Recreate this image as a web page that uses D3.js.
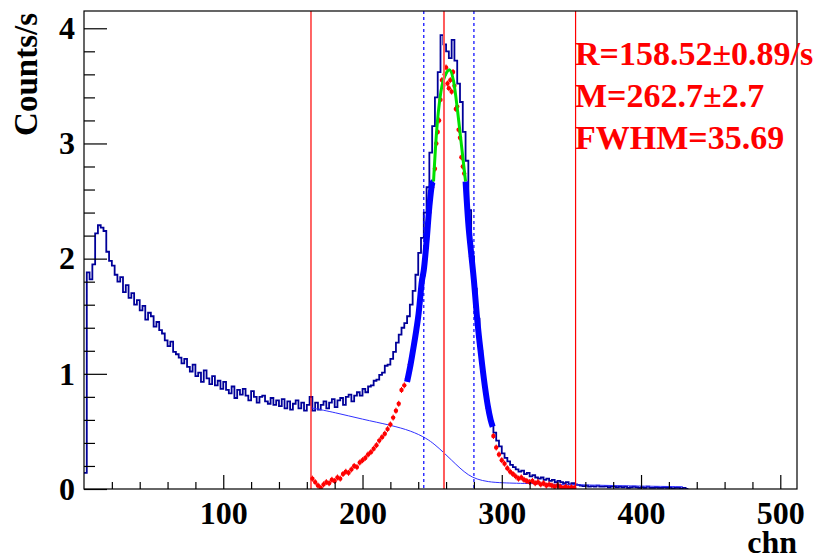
<!DOCTYPE html>
<html>
<head>
<meta charset="utf-8">
<script src="https://cdn.jsdelivr.net/npm/d3@7"></script>
<style>
  body { margin: 0; background: #fff; }
  svg { display: block; }
</style>
</head>
<body>
<div id="chart"></div>
<script>
// Histogram: counts per 2-channel bin, starting at channel 0
let binWidth = 2;
let counts = [
  0.14, 1.88, 1.82, 1.95, 2.22, 2.29, 2.27, 2.24, 2.06, 1.98,
  1.94, 1.86, 1.80, 1.84, 1.71, 1.77, 1.66, 1.70, 1.60, 1.64,
  1.55, 1.59, 1.47, 1.53, 1.50, 1.41, 1.45, 1.38, 1.35, 1.29,
  1.24, 1.28, 1.19, 1.17, 1.14, 1.09, 1.13, 1.06, 1.02, 1.08,
  0.98, 1.01, 0.93, 1.03, 0.96, 0.91, 0.98, 0.90, 0.94, 0.87,
  0.93, 0.86, 0.83, 0.89, 0.79, 0.86, 0.82, 0.87, 0.81, 0.77,
  0.85, 0.80, 0.75, 0.80, 0.81, 0.76, 0.74, 0.79, 0.73, 0.77,
  0.72, 0.78, 0.70, 0.76, 0.69, 0.74, 0.77, 0.70, 0.75, 0.68,
  0.73, 0.80, 0.68, 0.75, 0.69, 0.73, 0.76, 0.70, 0.75, 0.78,
  0.71, 0.77, 0.79, 0.73, 0.80, 0.82, 0.76, 0.81, 0.84, 0.81,
  0.87, 0.84, 0.89, 0.90, 0.94, 0.95, 0.99, 1.01, 1.07, 1.08,
  1.13, 1.19, 1.27, 1.34, 1.40, 1.44, 1.50, 1.60, 1.72, 1.86,
  2.05, 2.18, 2.40, 2.62, 2.92, 3.15, 3.40, 3.62, 3.94, 3.86,
  3.80, 3.74, 3.90, 3.72, 3.52, 3.36, 3.10, 2.85, 2.42, 2.02,
  1.74, 1.48, 1.20, 0.98, 0.80, 0.66, 0.56, 0.49, 0.42, 0.37,
  0.31, 0.27, 0.24, 0.21, 0.19, 0.17, 0.15, 0.16, 0.13, 0.14,
  0.11, 0.12, 0.10, 0.09, 0.10, 0.08, 0.09, 0.07, 0.08, 0.06,
  0.07, 0.06, 0.05, 0.06, 0.04, 0.05, 0.04, 0.035, 0.03, 0.025,
  0.03, 0.02, 0.025, 0.02, 0.03, 0.02, 0.02, 0.025, 0.015, 0.02,
  0.02, 0.015, 0.02, 0.015, 0.02, 0.01, 0.015, 0.02, 0.015, 0.01,
  0.015, 0.01, 0.02, 0.01, 0.01, 0.015, 0.01, 0.01, 0.015, 0.01,
  0.01, 0.005, 0.01, 0.01, 0.005, 0.01, 0
];

// Background estimate under the peak (thin blue curve)
let bgChn  = [163, 180, 200, 220, 235, 246, 252, 258, 264, 270, 276, 282, 290, 300, 320, 360, 400, 430];
let bgRate = [0.705, 0.665, 0.605, 0.555, 0.505, 0.44, 0.385, 0.32, 0.25, 0.18, 0.12, 0.085, 0.062, 0.053, 0.047, 0.035, 0.025, 0.02];

// Background-subtracted counts (red markers)
let netChn = [164, 166, 168, 170, 172, 174, 176, 178, 180, 182, 184, 186, 188, 190, 192, 194, 196, 198, 200,
  202, 204, 206, 208, 210, 212, 214, 216, 218, 220, 222, 224, 226, 228, 230, 232,
  234, 236, 238, 240, 242, 244, 246, 248, 250,
  252, 253, 254, 255, 256, 257, 258, 259, 260, 261, 262, 263, 264, 265, 266, 267, 268, 269, 270, 271, 272, 273,
  274, 276, 278, 280, 282, 284, 286, 288, 290, 292,
  294, 296, 298, 300, 302, 304, 306, 308, 310, 312, 314, 316, 318, 320, 322, 324, 326, 328, 330,
  332, 334, 336, 338, 340, 342, 344, 346, 348, 350, 352];
let netRate = [0.09, 0.06, 0.03, 0.01, 0.04, 0.06, 0.05, 0.08, 0.07, 0.10, 0.09, 0.13, 0.15, 0.14, 0.17, 0.20, 0.19, 0.23, 0.25,
  0.27, 0.30, 0.32, 0.35, 0.38, 0.42, 0.45, 0.48, 0.52, 0.56, 0.62, 0.68, 0.74, 0.86, 0.90, 0.96,
  1.08, 1.18, 1.35, 1.50, 1.70, 1.86, 2.12, 2.40, 2.62,
  2.78, 3.00, 3.10, 3.20, 3.38, 3.55, 3.50, 3.60, 3.66, 3.52, 3.48, 3.55, 3.45, 3.62, 3.50, 3.30, 3.32, 3.12, 3.05, 2.88, 2.80, 2.74,
  2.62, 2.30, 2.02, 1.80, 1.52, 1.25, 1.05, 0.85, 0.70, 0.60,
  0.46, 0.36, 0.30, 0.25, 0.22, 0.18, 0.15, 0.13, 0.11, 0.09, 0.10, 0.08, 0.07, 0.06, 0.07, 0.05, 0.06, 0.04, 0.05,
  0.03, 0.04, 0.03, 0.02, 0.03, 0.02, 0.01, 0.02, 0.01, 0.015, 0.01];

// Flanks of the fitted peak (thick blue) and the gaussian top (green)
let leftFlankChn  = [232, 234.5, 236.7, 238.5, 240.3, 242.7, 244, 246, 248, 250, 251];
let leftFlankRate = [0.93, 1.08, 1.235, 1.37, 1.525, 1.81, 1.90, 2.15, 2.45, 2.65, 2.67];
let rightFlankChn  = [274, 276, 278, 280, 282, 284, 286, 288, 290, 292, 293.5];
let rightFlankRate = [2.67, 2.30, 2.05, 1.81, 1.52, 1.28, 1.07, 0.88, 0.72, 0.60, 0.54];
let fitChn  = [251, 253, 256.3, 260.6, 262.3, 265.4, 268.3, 271, 274];
let fitRate = [2.67, 3.07, 3.45, 3.62, 3.64, 3.54, 3.28, 2.99, 2.67];

// Region of interest limits (red) and peak window (blue dashed)
let roiLines = [163, 258.5, 353];
let windowLines = [244, 280];

let statLines = ["R=158.52\u00b10.89/s", "M=262.7\u00b12.7", "FWHM=35.69"];
let xTicks = [100, 200, 300, 400, 500];
let yTicks = [0, 1, 2, 3, 4];

// Size of page and frame
let width = 825;
let height = 559;
let margin = {top: 11, right: 28, bottom: 70, left: 84};
let innerW = width - margin.left - margin.right;
let innerH = height - margin.top - margin.bottom;
let font = "'Liberation Serif', 'Times New Roman', serif";

let x = d3.scaleLinear().domain([0, 512]).range([0, innerW]);
let y = d3.scaleLinear().domain([0, 4.15]).range([innerH, 0]);

let svg = d3.select('#chart')
.append('svg')
.attr('width', width)
.attr('height', height);

let g = svg.append('g')
.attr('transform', 'translate(' + margin.left + ',' + margin.top + ')');

g.append('clipPath')
.attr('id', 'frameclip')
.append('rect')
.attr('width', innerW)
.attr('height', innerH);

let plot = g.append('g').attr('clip-path', 'url(#frameclip)');

// Step line for histogram, one point per bin plus the closing edge
let histPts = counts.map(function(c, i){ return [i * binWidth, c]; });
histPts.push([counts.length * binWidth, counts[counts.length - 1]]);

let stepLine = d3.line()
.x(function(d){ return x(d[0]); })
.y(function(d){ return y(d[1]); })
.curve(d3.curveStepAfter);

let smoothLine = d3.line()
.x(function(d){ return x(d[0]); })
.y(function(d){ return y(d[1]); })
.curve(d3.curveMonotoneX);

let bgLine = d3.line()
.x(function(d){ return x(d[0]); })
.y(function(d){ return y(d[1]); })
.curve(d3.curveBasis);

plot.append('path')
.attr('d', stepLine(histPts))
.attr('fill', 'none')
.attr('stroke', '#000099')
.attr('stroke-width', 1.8);

// Background curve
plot.append('path')
.attr('d', bgLine(d3.zip(bgChn, bgRate)))
.attr('fill', 'none')
.attr('stroke', '#3030ff')
.attr('stroke-width', 1);

// Net counts markers with tiny error bars
let net = d3.zip(netChn, netRate);
plot.append('g')
.selectAll('line')
.data(net)
.enter()
.append('line')
.attr('x1', function(d){ return x(d[0]); })
.attr('x2', function(d){ return x(d[0]); })
.attr('y1', function(d){ return y(d[1]) - 3; })
.attr('y2', function(d){ return y(d[1]) + 3; })
.attr('stroke', '#ff0000')
.attr('stroke-width', 1);

plot.append('g')
.selectAll('circle')
.data(net)
.enter()
.append('circle')
.attr('cx', function(d){ return x(d[0]); })
.attr('cy', function(d){ return y(d[1]); })
.attr('r', 2.2)
.attr('fill', '#ff0000');

// Thick blue flanks
[[leftFlankChn, leftFlankRate], [rightFlankChn, rightFlankRate]].forEach(function(f){
    plot.append('path')
    .attr('d', smoothLine(d3.zip(f[0], f[1])))
    .attr('fill', 'none')
    .attr('stroke', '#0000ff')
    .attr('stroke-width', 6);
});

// Gaussian top
plot.append('path')
.attr('d', smoothLine(d3.zip(fitChn, fitRate)))
.attr('fill', 'none')
.attr('stroke', '#00e000')
.attr('stroke-width', 3);

// Vertical markers
g.selectAll('.roi')
.data(roiLines)
.enter()
.append('line')
.attr('class', 'roi')
.attr('x1', function(d){ return x(d); })
.attr('x2', function(d){ return x(d); })
.attr('y1', 0)
.attr('y2', innerH)
.attr('stroke', function(d, i){ return i == 1 ? '#ff5a5a' : '#ff0000'; })
.attr('stroke-width', function(d, i){ return i == 1 ? 2 : 1.2; });

g.selectAll('.win')
.data(windowLines)
.enter()
.append('line')
.attr('class', 'win')
.attr('x1', function(d){ return x(d); })
.attr('x2', function(d){ return x(d); })
.attr('y1', 0)
.attr('y2', innerH)
.attr('stroke', '#0000ff')
.attr('stroke-width', 1.2)
.attr('stroke-dasharray', '3,3');

// Axes, ticks point inwards
function styleAxis(sel){
    sel.select('.domain').remove();
    sel.selectAll('line').attr('stroke', '#000').attr('stroke-width', 1.2);
    sel.selectAll('text')
    .attr('font-family', font)
    .attr('font-weight', 'bold')
    .attr('font-size', 32)
    .attr('fill', '#000');
}

let xMinor = d3.range(20, 512, 20).filter(function(v){ return v % 100 != 0; });
g.append('g')
.attr('transform', 'translate(0,' + innerH + ')')
.call(d3.axisBottom(x).tickValues(xMinor).tickSizeInner(-7).tickSizeOuter(0).tickFormat(''))
.call(styleAxis);

g.append('g')
.attr('transform', 'translate(0,' + innerH + ')')
.call(d3.axisBottom(x).tickValues(xTicks).tickSizeInner(-14).tickSizeOuter(0).tickPadding(12).tickFormat(d3.format('d')))
.call(styleAxis);

let yMinor = d3.range(0.2, 4.1, 0.2).filter(function(v){ return Math.abs(v - Math.round(v)) > 0.01; });
g.append('g')
.call(d3.axisLeft(y).tickValues(yMinor).tickSizeInner(-11).tickSizeOuter(0).tickFormat(''))
.call(styleAxis);

g.append('g')
.call(d3.axisLeft(y).tickValues(yTicks).tickSizeInner(-23).tickSizeOuter(0).tickPadding(9).tickFormat(d3.format('d')))
.call(styleAxis);

// Frame
g.append('rect')
.attr('width', innerW)
.attr('height', innerH)
.attr('fill', 'none')
.attr('stroke', '#000')
.attr('stroke-width', 1.2);

// Axis titles
svg.append('text')
.attr('transform', 'translate(37,13) rotate(-90)')
.attr('text-anchor', 'end')
.attr('font-family', font)
.attr('font-weight', 'bold')
.attr('font-size', 33)
.text('Counts/s');

svg.append('text')
.attr('x', margin.left + innerW)
.attr('y', 553)
.attr('text-anchor', 'end')
.attr('font-family', font)
.attr('font-weight', 'bold')
.attr('font-size', 32)
.text('chn');

// Fit results
svg.append('g')
.selectAll('text')
.data(statLines)
.enter()
.append('text')
.attr('x', 575)
.attr('y', function(d, i){ return 65 + i * 42; })
.attr('font-family', font)
.attr('font-weight', 'bold')
.attr('font-size', 34)
.attr('fill', '#ff0000')
.text(function(d){ return d; });
</script>
</body>
</html>
